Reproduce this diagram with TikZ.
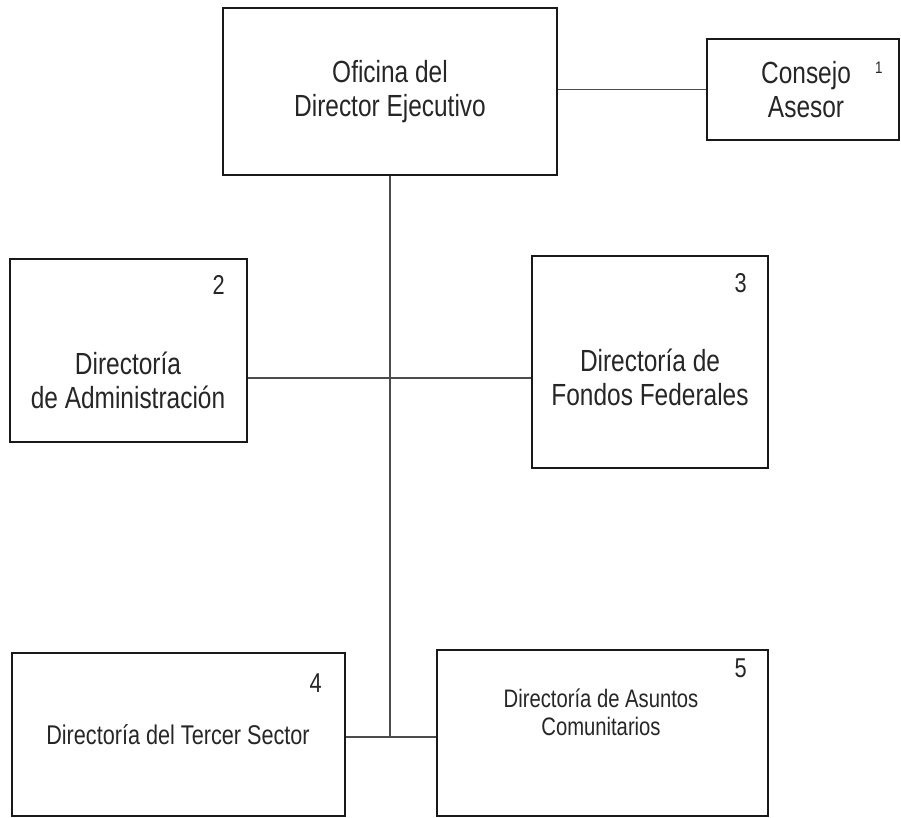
\documentclass[tikz,border=0pt]{standalone}
\usepackage{fontspec}
\setmainfont{Liberation Sans}[FakeStretch=0.8]
\usetikzlibrary{positioning}

\begin{document}
\begin{tikzpicture}[x=0.02cm, y=-0.02cm]
    \tikzstyle{box}=[draw=black!90, line width=1.1pt, inner sep=0pt]
    \tikzstyle{txt}=[align=center, text=black!85, font=\fontsize{17.4}{19.3}\selectfont]
    \tikzstyle{lowtxt}=[align=center, text=black!85, font=\fontsize{15.4}{16}\selectfont]
    \tikzstyle{num}=[anchor=north east, inner sep=0pt, text=black!85, font=\fontsize{15.5}{17}\selectfont]
    \tikzstyle{link}=[draw=black!70, line width=0.6pt]
    \useasboundingbox (0, 0) rectangle (901, 817);
    % boxes
    \node[box, minimum width=6.68cm, minimum height=3.34cm] (ode) at (390, 91.5)  {};
    \node[box, minimum width=3.84cm, minimum height=2.02cm] (con) at (803, 89.5)  {};
    \node[box, minimum width=4.74cm, minimum height=3.66cm] (adm) at (128.5, 350.5) {};
    \node[box, minimum width=4.72cm, minimum height=4.24cm] (fed) at (650, 362)   {};
    \node[box, minimum width=6.66cm, minimum height=3.26cm] (ter) at (178.5, 734.5) {};
    \node[box, minimum width=6.62cm, minimum height=3.32cm] (asu) at (602.5, 733) {};
    % texts
    \node[txt]    (ode-t) at (390, 92)  {Oficina del\\Director Ejecutivo};
    \node[txt]    (con-t) at (806, 90)  {Consejo\\Asesor};
    \node[txt]    (adm-t) at (128, 380) {Directoría\\de Administración};
    \node[txt]    (fed-t) at (650, 377) {Directoría de\\Fondos Federales};
    \node[lowtxt] (ter-t) at (178, 735) {Directoría del Tercer Sector};
    \node[lowtxt, font=\fontsize{14.4}{16}\selectfont] (asu-t) at (601, 712) {Directoría de Asuntos\\Comunitarios};
    % numbers
    \node[num, font=\fontsize{9.5}{10}\selectfont] (n1) at (883, 62) {1};
    \node[num] (n2) at (225, 275) {2};
    \node[num] (n3) at (747, 273) {3};
    \node[num] (n4) at (322, 673) {4};
    \node[num] (n5) at (747, 658) {5};
    % lines
    \coordinate (jmid) at (390, 378);
    \coordinate (jbot) at (390, 737);
    \path[link] (con.west) edge (con.west -| ode.east)
                (ode.south) edge (jbot)
                (adm.east |- jmid) edge (fed.west |- jmid)
                (ter.east |- jbot) edge (asu.west |- jbot);
\end{tikzpicture}
\end{document}
